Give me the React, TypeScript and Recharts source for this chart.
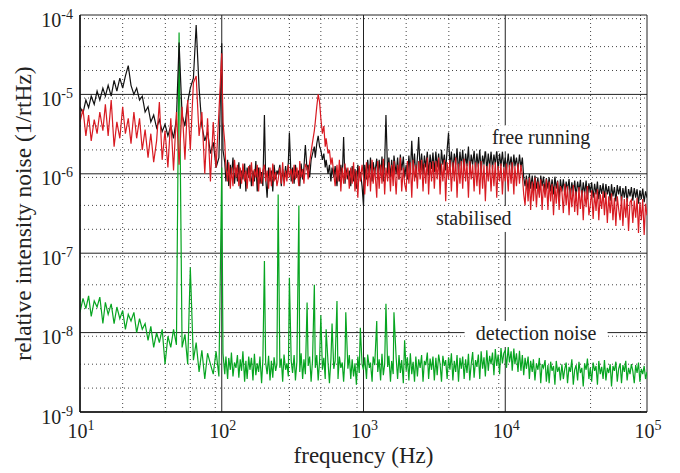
import { LineChart, Line, XAxis, YAxis, CartesianGrid, ReferenceDot } from 'recharts';

// frequency bins (Hz)
const frequencies = [
  10, 10.5, 11, 11.5, 12, 12.6, 13.2, 13.8, 14.5, 15.1,
  15.8, 16.6, 17.4, 18.2, 19.1, 20, 20.9, 21.9, 22.9, 24,
  25.1, 26.3, 27.5, 28.8, 30.2, 31.6, 33.1, 34.7, 36.3, 38,
  39.8, 41.7, 43.7, 45.7, 47.9, 50, 52.5, 55, 57.5, 60,
  63.1, 66, 69.2, 72.4, 75.9, 79.4, 83.2, 87.1, 91.2, 95.5,
  100, 102, 105, 107, 110, 112, 115, 117, 120, 123,
  126, 129, 132, 135, 138, 141, 145, 148, 151, 155,
  158, 162, 166, 170, 174, 178, 182, 186, 191, 195,
  200, 204, 209, 214, 219, 224, 229, 234, 240, 245,
  250, 257, 263, 269, 275, 282, 288, 295, 300, 309,
  316, 324, 331, 339, 350, 355, 363, 372, 380, 389,
  400, 407, 417, 427, 437, 450, 457, 468, 479, 490,
  500, 513, 525, 537, 545, 562, 575, 589, 600, 617,
  631, 650, 661, 676, 692, 708, 724, 741, 750, 776,
  794, 813, 832, 851, 871, 891, 912, 933, 950, 977,
  1000, 1020, 1050, 1070, 1100, 1120, 1150, 1170, 1200, 1240,
  1260, 1290, 1320, 1350, 1380, 1410, 1440, 1480, 1510, 1550,
  1580, 1620, 1640, 1700, 1740, 1780, 1820, 1860, 1910, 1950,
  2000, 2040, 2090, 2140, 2190, 2240, 2290, 2340, 2400, 2450,
  2510, 2570, 2630, 2690, 2750, 2820, 2880, 2950, 3020, 3090,
  3160, 3240, 3310, 3390, 3470, 3550, 3630, 3720, 3800, 3890,
  3980, 4070, 4170, 4270, 4370, 4470, 4570, 4680, 4790, 4900,
  5010, 5130, 5250, 5370, 5500, 5620, 5750, 5890, 6030, 6170,
  6310, 6460, 6610, 6760, 6920, 7080, 7240, 7410, 7590, 7760,
  7940, 8130, 8320, 8510, 8710, 8910, 9120, 9330, 9550, 9770,
  10000, 10200, 10500, 10700, 11000, 11200, 11500, 11700, 12000, 12300,
  12600, 12900, 13200, 13500, 13800, 14100, 14500, 14800, 15100, 15500,
  15800, 16200, 16600, 17000, 17400, 17800, 18200, 18600, 19100, 19500,
  20000, 20400, 20900, 21400, 21900, 22400, 22900, 23400, 24000, 24500,
  25100, 25700, 26300, 26900, 27500, 28200, 28800, 29500, 30200, 30900,
  31600, 32400, 33100, 33900, 34700, 35500, 36300, 37200, 38000, 38900,
  39800, 40700, 41700, 42700, 43700, 44700, 45700, 46800, 47900, 49000,
  50100, 51300, 52500, 53700, 55000, 56200, 57500, 58900, 60300, 61700,
  63100, 64600, 66100, 67600, 69200, 70800, 72400, 74100, 75900, 77600,
  79400, 81300, 83200, 85100, 87100, 89100, 91200, 93300, 95500, 97700, 100000,
];

// free running RIN, in units of 1e-6 /rtHz
const freeRunning = [
  7.0, 5.8, 8.5, 6.8, 9.5, 7.5, 11, 8.5, 12, 9.5,
  13, 9.5, 15, 11, 16, 12, 17, 23, 13, 10,
  12, 8.5, 9.5, 6.0, 7.0, 4.5, 5.5, 3.8, 4.8, 3.4,
  4.2, 3.0, 4.0, 2.8, 5.0, 45, 5.5, 4.0, 8.0, 12,
  16, 75, 12, 4.0, 2.6, 3.4, 1.8, 2.5, 1.2, 1.6,
  44, 2.0, 1.4, 0.8, 1.5, 0.7, 1.3, 0.9, 1.6, 0.75,
  1.2, 0.8, 1.4, 0.65, 1.1, 0.85, 1.35, 0.6, 1.2, 0.9,
  1.3, 0.7, 1.1, 0.8, 1.45, 0.6, 1.2, 0.75, 1.05, 0.7,
  5.5, 0.9, 0.5, 1.2, 0.8, 1.1, 0.6, 1.3, 0.85, 1.1,
  1.0, 1.3, 0.7, 1.15, 0.8, 1.25, 0.9, 1.4, 3.3, 0.8,
  1.2, 0.75, 1.3, 0.9, 1.1, 0.7, 1.35, 0.85, 1.2, 2.3,
  1.1, 1.3, 0.9, 1.5, 1.8, 2.2, 1.6, 2.4, 3.0, 2.2,
  2.0, 1.5, 1.8, 1.2, 1.5, 1.0, 1.3, 0.8, 1.2, 0.9,
  1.25, 0.7, 1.1, 0.8, 1.3, 0.9, 2.9, 0.75, 1.2, 0.85,
  1.1, 0.7, 1.25, 0.8, 1.15, 0.65, 1.3, 0.9, 1.05, 0.7,
  0.4, 1.3, 0.85, 1.5, 0.9, 1.6, 0.8, 1.4, 1.0, 1.55,
  0.85, 1.5, 0.95, 1.65, 0.8, 1.35, 5.5, 1.0, 1.6, 0.9,
  1.5, 0.9, 1.7, 1.0, 1.6, 0.85, 1.75, 1.1, 1.65, 0.9,
  1.3, 0.85, 1.7, 1.0, 2.6, 1.1, 1.8, 0.9, 1.6, 2.9,
  1.1, 1.8, 1.0, 1.7, 1.2, 1.9, 0.95, 1.75, 1.15, 1.85,
  1.05, 1.9, 1.2, 1.8, 0.95, 2.0, 1.3, 1.75, 1.1, 2.0,
  3.3, 1.2, 1.9, 1.05, 1.8, 1.3, 2.1, 1.0, 1.9, 1.25,
  2.0, 1.1, 1.8, 1.25, 2.2, 1.0, 1.75, 1.3, 1.95, 1.1,
  1.8, 1.2, 2.0, 1.05, 1.7, 1.3, 2.1, 1.1, 1.8, 1.2,
  1.9, 1.15, 1.75, 1.3, 2.0, 1.1, 1.8, 1.25, 1.9, 1.2,
  1.6, 1.1, 1.8, 1.2, 1.65, 1.05, 1.75, 1.25, 1.6, 1.1,
  1.75, 1.2, 1.6, 0.9, 0.7, 0.95, 0.6, 1.0, 0.65, 0.95,
  0.6, 0.95, 0.65, 0.9, 0.55, 0.95, 0.7, 0.92, 0.6, 0.88,
  0.65, 0.9, 0.6, 0.85, 0.55, 0.92, 0.65, 0.82, 0.5, 0.85,
  0.6, 0.85, 0.55, 0.8, 0.62, 0.86, 0.5, 0.78, 0.58, 0.82,
  0.52, 0.8, 0.6, 0.84, 0.5, 0.78, 0.56, 0.82, 0.48, 0.76,
  0.58, 0.78, 0.5, 0.75, 0.55, 0.8, 0.48, 0.72, 0.56, 0.76,
  0.5, 0.74, 0.55, 0.7, 0.46, 0.74, 0.52, 0.68, 0.45, 0.72,
  0.55, 0.7, 0.45, 0.66, 0.5, 0.7, 0.44, 0.64, 0.52, 0.68,
  0.46, 0.66, 0.5, 0.64, 0.42, 0.62, 0.48, 0.65, 0.44, 0.6, 0.5,
];

// stabilised RIN, in units of 1e-6 /rtHz
const stabilised = [
  4.5, 6.5, 3.0, 5.5, 2.6, 4.8, 3.2, 6.0, 3.5, 7.5,
  3.0, 8.5, 2.2, 4.5, 2.8, 7.0, 3.2, 5.0, 2.4, 6.0,
  2.8, 5.0, 2.0, 3.6, 1.6, 3.2, 1.4, 2.6, 8.0, 1.5,
  3.5, 1.2, 5.0, 1.1, 6.0, 1.3, 7.0, 1.5, 8.5, 2.0,
  14, 17, 3.0, 6.0, 1.0, 5.0, 0.8, 4.5, 1.2, 6.0,
  33, 4.5, 2.5, 1.2, 0.8, 1.4, 0.65, 1.2, 0.7, 1.5,
  0.9, 1.3, 0.7, 1.2, 0.75, 1.35, 0.8, 1.1, 0.65, 1.25,
  0.8, 1.4, 0.7, 1.15, 0.9, 1.3, 0.6, 1.2, 0.75, 1.1,
  1.3, 0.8, 1.1, 0.65, 1.2, 0.7, 1.35, 0.8, 1.05, 0.7,
  0.85, 1.2, 0.75, 1.4, 0.7, 1.1, 0.8, 1.3, 0.9, 1.15,
  0.75, 1.3, 0.85, 1.2, 0.7, 1.45, 0.9, 1.15, 0.75, 1.3,
  1.2, 0.85, 1.4, 1.9, 2.5, 3.5, 4.5, 7.0, 10, 8.0,
  5.0, 3.2, 4.0, 2.2, 2.8, 1.8, 2.0, 1.3, 1.6, 1.0,
  0.7, 1.3, 0.8, 1.5, 0.6, 1.2, 0.75, 1.35, 0.85, 1.2,
  0.65, 1.2, 0.75, 1.4, 0.6, 1.1, 0.5, 1.25, 0.8, 1.3,
  0.9, 0.55, 1.4, 0.7, 1.3, 0.6, 1.5, 0.75, 1.2, 0.5,
  1.45, 0.65, 1.3, 0.75, 1.55, 0.55, 1.2, 0.8, 1.4, 0.6,
  1.3, 0.7, 1.45, 0.55, 1.3, 0.85, 1.6, 0.6, 1.2, 0.75,
  0.6, 1.45, 0.75, 1.4, 0.5, 1.5, 0.8, 1.3, 0.65, 1.45,
  0.85, 1.5, 0.6, 1.35, 0.75, 1.6, 0.55, 1.4, 0.8, 1.45,
  0.65, 1.45, 0.85, 1.6, 0.55, 1.35, 0.8, 1.5, 0.45, 1.4,
  0.85, 1.5, 0.6, 1.4, 0.8, 1.6, 0.5, 1.35, 0.75, 1.45,
  0.65, 1.55, 0.8, 1.35, 0.5, 1.45, 0.85, 1.3, 0.6, 1.4,
  0.7, 1.35, 0.55, 1.45, 0.65, 1.3, 0.45, 1.25, 0.8, 1.35,
  0.6, 1.3, 0.7, 1.4, 0.5, 1.25, 0.8, 1.35, 0.55, 1.2,
  0.8, 1.35, 0.6, 1.3, 0.75, 1.4, 0.55, 1.25, 0.7, 1.35,
  0.75, 1.3, 0.95, 0.55, 0.4, 0.85, 0.45, 0.9, 0.35, 0.8,
  0.45, 0.9, 0.38, 0.8, 0.5, 0.85, 0.35, 0.75, 0.5, 0.85,
  0.35, 0.8, 0.45, 0.75, 0.3, 0.7, 0.42, 0.8, 0.35, 0.7,
  0.6, 0.32, 0.75, 0.4, 0.7, 0.3, 0.65, 0.38, 0.72, 0.33,
  0.6, 0.3, 0.68, 0.36, 0.62, 0.26, 0.6, 0.38, 0.7, 0.3,
  0.4, 0.62, 0.27, 0.58, 0.34, 0.64, 0.26, 0.55, 0.36, 0.6,
  0.3, 0.58, 0.24, 0.52, 0.32, 0.57, 0.26, 0.5, 0.22, 0.52,
  0.36, 0.26, 0.52, 0.22, 0.48, 0.28, 0.5, 0.19, 0.44, 0.47,
  0.24, 0.46, 0.28, 0.5, 0.18, 0.44, 0.26, 0.48, 0.17, 0.42, 0.3,
];

// detection noise, in units of 1e-9 /rtHz
const detectionNoise = [
  18, 27, 20, 29, 16, 25, 21, 28, 13, 24,
  17, 23, 13, 21, 15, 19, 11, 17, 14, 18,
  10, 15, 11, 13, 8.0, 12, 6.5, 10, 7.5, 11,
  4.0, 9.0, 6.5, 11, 7.0, 60000, 6.5, 9.5, 4.0, 66,
  4.5, 7.5, 3.2, 6.0, 2.6, 5.5, 4.0, 3.0, 5.8, 2.8,
  1200, 5.5, 3.0, 5.0, 2.6, 4.8, 3.4, 5.6, 2.8, 4.2,
  3.6, 5.2, 2.7, 4.6, 3.3, 5.8, 2.4, 4.4, 2.6, 5.0,
  3.4, 4.8, 2.5, 5.4, 2.9, 4.1, 3.2, 5.0, 2.3, 4.5,
  80, 4.2, 3.0, 5.1, 2.5, 4.4, 2.7, 4.9, 3.3, 4.0,
  550, 3.6, 4.7, 2.4, 5.3, 3.4, 4.1, 2.8, 49, 4.4,
  3.1, 5.2, 2.5, 4.3, 400, 3.2, 5.5, 2.6, 4.6, 3.0,
  24, 3.8, 5.0, 2.4, 4.5, 40, 3.6, 5.2, 2.5, 4.4,
  16.5, 3.4, 4.8, 2.6, 11, 4.2, 2.3, 4.6, 13, 3.5,
  4.4, 25, 2.6, 5.0, 3.6, 4.2, 2.4, 4.8, 18, 3.5,
  5.2, 2.6, 4.6, 2.8, 4.1, 2.2, 5.0, 3.1, 11.5, 4.0,
  3.4, 4.9, 2.6, 5.3, 3.6, 4.2, 2.4, 5.0, 3.9, 14,
  3.2, 4.6, 2.5, 5.4, 2.9, 4.0, 23, 3.7, 5.1, 2.4,
  4.4, 3.0, 18, 4.8, 2.6, 5.2, 3.1, 4.5, 2.3, 8.0,
  3.3, 4.9, 2.5, 5.5, 3.0, 4.3, 2.4, 5.0, 2.8, 4.6,
  3.6, 5.2, 2.4, 4.4, 3.9, 5.6, 2.6, 4.7, 3.4, 5.0,
  2.5, 4.8, 2.9, 5.3, 4.0, 2.4, 5.1, 3.8, 4.5, 2.6,
  4.9, 3.4, 5.5, 2.5, 4.4, 3.2, 5.2, 2.4, 4.8, 3.5,
  5.0, 2.6, 4.6, 3.1, 5.4, 2.5, 4.0, 5.7, 2.7, 4.5,
  3.7, 5.3, 2.6, 5.8, 3.5, 4.9, 2.8, 6.0, 3.3, 5.1,
  4.0, 5.6, 2.9, 6.2, 3.8, 5.3, 3.0, 6.4, 4.1, 5.5,
  6.0, 3.6, 6.6, 4.2, 5.8, 3.3, 6.3, 4.0, 5.5, 3.2,
  5.9, 3.3, 5.2, 2.9, 4.8, 3.5, 5.0, 2.6, 4.4, 3.2,
  4.6, 2.5, 4.1, 3.4, 4.8, 2.3, 4.0, 3.6, 4.5, 2.4,
  3.9, 2.3, 4.3, 3.3, 3.8, 2.2, 4.4, 3.2, 3.7, 2.5,
  4.0, 2.6, 3.5, 4.2, 2.3, 3.7, 3.2, 4.6, 2.2, 3.4,
  3.9, 2.5, 4.3, 3.1, 3.6, 2.1, 4.1, 3.4, 4.7, 2.6,
  3.6, 2.4, 4.2, 3.3, 3.8, 2.2, 4.4, 3.0, 3.7, 2.6,
  4.5, 2.5, 3.6, 3.1, 4.0, 2.1, 3.8, 3.3, 4.3, 2.4,
  3.5, 4.1, 2.3, 3.9, 3.2, 4.4, 2.5, 3.6, 3.0, 4.0,
  3.3, 2.3, 3.9, 3.1, 4.2, 2.4, 3.5, 3.0, 3.8, 2.6, 3.2,
];

const xMajor = [10, 100, 1000, 10000, 100000];
const xMinor = [
  20, 30, 40, 50, 60, 70, 80, 90,
  200, 300, 400, 500, 600, 700, 800, 900,
  2000, 3000, 4000, 5000, 6000, 7000, 8000, 9000,
  20000, 30000, 40000, 50000, 60000, 70000, 80000, 90000,
];
const yMajor = [1e-9, 1e-8, 1e-7, 1e-6, 1e-5, 1e-4];
const yMinor = [
  2e-9, 3e-9, 4e-9, 5e-9, 6e-9, 7e-9, 8e-9, 9e-9,
  2e-8, 3e-8, 4e-8, 5e-8, 6e-8, 7e-8, 8e-8, 9e-8,
  2e-7, 3e-7, 4e-7, 5e-7, 6e-7, 7e-7, 8e-7, 9e-7,
  2e-6, 3e-6, 4e-6, 5e-6, 6e-6, 7e-6, 8e-6, 9e-6,
  2e-5, 3e-5, 4e-5, 5e-5, 6e-5, 7e-5, 8e-5, 9e-5,
];

const annotations = [
  { text: 'free running', f: 17900, v: 2.8e-6 },
  { text: 'stabilised', f: 6000, v: 2.7e-7 },
  { text: 'detection noise', f: 16500, v: 9.6e-9 },
];

const data = frequencies.map((f, i) => ({
  f,
  free: freeRunning[i] * 1e-6,
  stab: stabilised[i] * 1e-6,
  det: detectionNoise[i] * 1e-9,
}));

const SERIF = "'Liberation Serif', 'DejaVu Serif', serif";

const exponent = (v: number) => Math.round(Math.log10(v));

const YTick = ({ x, y, payload }: any) => (
  <text x={x - 7} y={y + 11.5} textAnchor="end" fontFamily={SERIF} fill="#222">
    <tspan fontSize={20}>10</tspan>
    <tspan fontSize={14} dy={-8}>{exponent(payload.value)}</tspan>
  </text>
);

const XTick = ({ x, y, payload }: any) => (
  <text x={x + 1} y={y + 26} textAnchor="middle" fontFamily={SERIF} fill="#222">
    <tspan fontSize={20}>10</tspan>
    <tspan fontSize={14} dy={-8}>{exponent(payload.value)}</tspan>
  </text>
);

const Note = ({ cx, cy, text }: any) => {
  const w = text.length * 8.6 + 14;
  return (
    <g>
      <rect x={cx - w / 2} y={cy - 13} width={w} height={26} fill="#fff" />
      <text x={cx} y={cy + 6} textAnchor="middle" fontFamily={SERIF} fontSize={20} fill="#222">
        {text}
      </text>
    </g>
  );
};

export default function App() {
  return (
    <div style={{ position: 'absolute', left: 0, top: 0, background: '#fff' }}>
      <LineChart width={680} height={473} data={data} margin={{ top: 15, right: 33, bottom: 0, left: 0 }}>
        <CartesianGrid
          verticalValues={xMinor}
          horizontalValues={yMinor}
          stroke="#444"
          strokeDasharray="1 3"
        />
        <CartesianGrid verticalValues={xMajor} horizontalValues={yMajor} stroke="#222" />
        <XAxis
          dataKey="f"
          type="number"
          scale="log"
          domain={[10, 100000]}
          ticks={xMajor}
          allowDataOverflow
          height={61}
          tickSize={0}
          tickMargin={0}
          tickLine={false}
          axisLine={{ stroke: '#111', strokeWidth: 1.5 }}
          tick={<XTick />}
          label={({ viewBox }: any) => (
            <text
              x={viewBox.x + viewBox.width / 2}
              y={viewBox.y + 51}
              textAnchor="middle"
              fontFamily={SERIF}
              fontSize={23}
              fill="#222"
            >
              frequency (Hz)
            </text>
          )}
        />
        <YAxis
          type="number"
          scale="log"
          domain={[1e-9, 1e-4]}
          ticks={yMajor}
          allowDataOverflow
          width={80}
          tickSize={0}
          tickMargin={0}
          tickLine={false}
          axisLine={{ stroke: '#111', strokeWidth: 1.5 }}
          tick={<YTick />}
          label={({ viewBox }: any) => {
            const cx = viewBox.x + 23;
            const cy = viewBox.y + viewBox.height / 2;
            return (
              <text
                x={cx}
                y={cy}
                transform={`rotate(-90 ${cx} ${cy})`}
                textAnchor="middle"
                dominantBaseline="central"
                fontFamily={SERIF}
                fontSize={23.5}
                fill="#222"
              >
                relative intensity noise (1/rtHz)
              </text>
            );
          }}
        />
        <Line dataKey="det" stroke="#07a521" strokeWidth={1.2} dot={false} isAnimationActive={false} />
        <Line dataKey="free" stroke="#111" strokeWidth={1.2} dot={false} isAnimationActive={false} />
        <Line dataKey="stab" stroke="#d81b22" strokeWidth={1.2} dot={false} isAnimationActive={false} />
        {annotations.map((a) => (
          <ReferenceDot
            key={a.text}
            x={a.f}
            y={a.v}
            shape={(p: any) => <Note cx={p.cx} cy={p.cy} text={a.text} />}
          />
        ))}
      </LineChart>
    </div>
  );
}
